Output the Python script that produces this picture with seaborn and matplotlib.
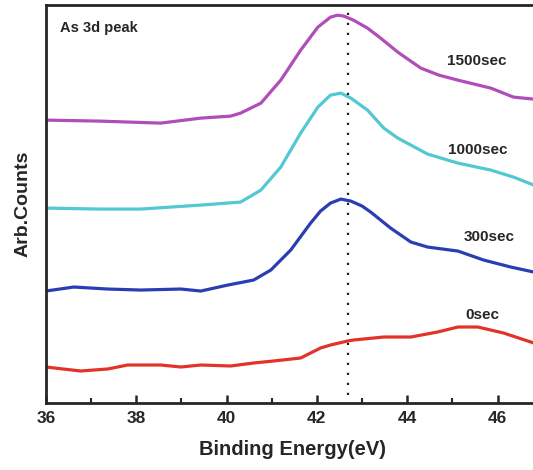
import numpy as np
import pandas as pd
import seaborn as sns
import matplotlib.pyplot as plt

# As 3d XPS spectra, offsets (arbitrary counts)
energy_0 = [36.0, 36.77, 37.37, 37.81, 38.54, 38.99, 39.43, 40.09, 40.6, 41.04, 41.64,
            41.86, 42.08, 42.3, 42.68, 42.81, 43.48, 44.08, 44.67, 45.12, 45.56, 46.13, 46.8]
counts_0 = [36, 32, 34, 38, 38, 36, 38, 37, 40, 42, 45,
            50, 55, 58, 62, 63, 66, 66, 71, 76, 76, 70, 60]

energy_300 = [36.0, 36.62, 37.37, 38.1, 38.99, 39.43, 40.03, 40.6, 40.98, 41.42, 41.86,
              42.08, 42.3, 42.53, 42.75, 43.0, 43.19, 43.63, 44.08, 44.45, 45.12, 45.69,
              46.29, 46.8]
counts_300 = [112, 116, 114, 113, 114, 112, 118, 123, 133, 153, 180,
              192, 200, 204, 202, 197, 191, 175, 161, 156, 152, 143,
              136, 131]

energy_1000 = [36.0, 37.2, 38.1, 39.43, 40.31, 40.76, 41.2, 41.64, 42.02, 42.3, 42.53,
               42.75, 43.12, 43.48, 43.79, 44.45, 45.12, 45.85, 46.35, 46.8]
counts_1000 = [195, 194, 194, 198, 201, 213, 236, 270, 296, 308, 310,
               305, 293, 275, 265, 249, 240, 233, 226, 218]

energy_1500 = [36.0, 37.2, 38.54, 39.43, 40.09, 40.31, 40.76, 41.2, 41.64, 42.02, 42.3,
               42.46, 42.6, 42.81, 43.12, 43.41, 43.79, 44.3, 44.7, 45.12, 45.85, 46.35, 46.8]
counts_1500 = [283, 282, 280, 285, 287, 290, 300, 323, 353, 376, 386,
               388, 387, 383, 375, 365, 351, 335, 328, 323, 315, 306, 304]

labels = ["0sec", "300sec", "1000sec", "1500sec"]
colors = ["#e2332b", "#2b3db3", "#52c8d2", "#b04db9"]
label_x = [45.66, 45.81, 45.56, 45.54]
label_y = [88, 166, 253, 342]

frames = []
for lab, e, c in zip(labels,
                     [energy_0, energy_300, energy_1000, energy_1500],
                     [counts_0, counts_300, counts_1000, counts_1500]):
    frames.append(pd.DataFrame({"energy": e, "counts": c, "time": lab}))
df = pd.concat(frames, ignore_index=True)

sns.set_style("ticks")
plt.rcParams["font.family"] = ["Liberation Sans", "DejaVu Sans"]
plt.rcParams["font.weight"] = "bold"

fig = plt.figure(figsize=(5.33, 4.70), dpi=100)
ax = fig.add_axes([0.086, 0.1426, 0.924, 0.8464])

sns.lineplot(data=df, x="energy", y="counts", hue="time", hue_order=labels,
             palette=colors, linewidth=2.3, legend=False, sort=False, ax=ax,
             solid_joinstyle="round", solid_capstyle="round")

ax.axvline(42.68, color="#222222", linestyle=(0, (1, 3.5)), linewidth=1.6,
           ymin=0.02, ymax=0.985)

for lab, lx, ly in zip(labels, label_x, label_y):
    ax.text(lx, ly, lab, ha="center", va="center", fontsize=11, fontweight="bold")
ax.text(36.31, 375, "As 3d peak", ha="left", va="center", fontsize=10.5,
        fontweight="bold")

ax.set_xlim(36, 46.9)
ax.set_ylim(0, 398)
ax.set_xticks([36, 38, 40, 42, 44, 46])
ax.set_xticks([37, 39, 41, 43, 45], minor=True)
ax.set_yticks([])
ax.tick_params(axis="x", which="major", direction="in", length=6, width=1.8,
               labelsize=12.5, pad=6)
ax.tick_params(axis="x", which="minor", direction="in", length=3.5, width=1.5)
for lbl in ax.get_xticklabels():
    lbl.set_fontweight("bold")

for side in ["left", "bottom", "top"]:
    ax.spines[side].set_linewidth(2)
ax.spines["right"].set_visible(False)

ax.set_xlabel("Binding Energy(eV)", fontsize=14.5, fontweight="bold", labelpad=10)
ax.set_ylabel("Arb.Counts", fontsize=14, fontweight="bold", labelpad=10)

fig.savefig("out.png", dpi=100)
